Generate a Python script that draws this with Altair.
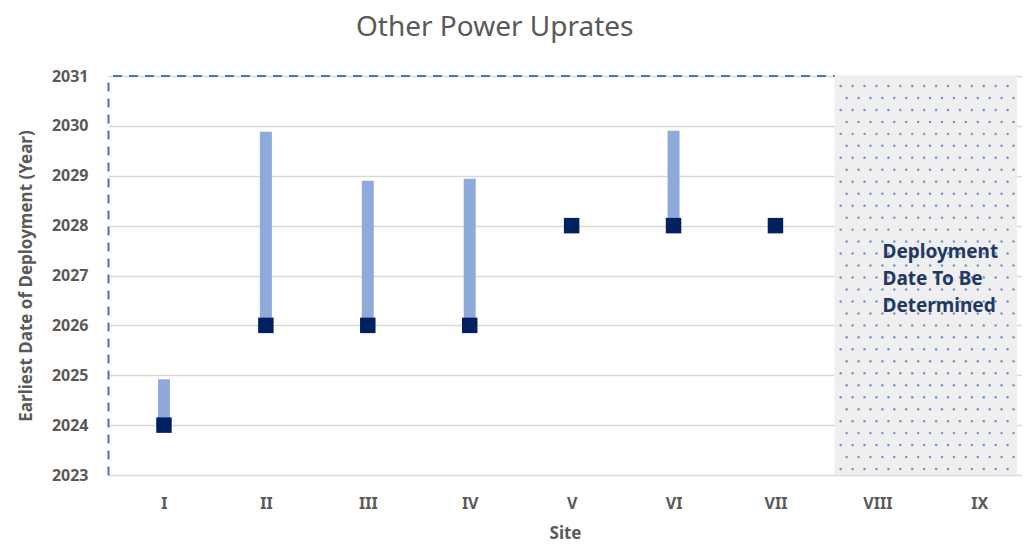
import altair as alt
import pandas as pd

sites = ["I", "II", "III", "IV", "V", "VI", "VII", "VIII", "IX"]
site_idx = [1, 2, 3, 4, 5, 6, 7, 8, 9]

point_sites = [1, 2, 3, 4, 5, 6, 7]
point_years = [2024, 2026, 2026, 2026, 2028, 2028, 2028]

bar_sites = [1, 2, 3, 4, 6]
bar_start = [2024, 2026, 2026, 2026, 2028]
bar_end = [2024.92, 2029.88, 2028.9, 2028.94, 2029.9]

tbd_from = 7.58
x_max = 9.37
y_min, y_max = 2023, 2031

FONT = "Noto Sans"
GREY = "#595959"
NAVY = "#002060"

points = pd.DataFrame({"site": point_sites, "year": point_years})
bars = pd.DataFrame({"site": bar_sites, "start": bar_start, "end": bar_end})
shade = pd.DataFrame({"x": [tbd_from], "x2": [x_max], "y": [y_min], "y2": [y_max]})
topline = pd.DataFrame({"x": [0.5], "x2": [tbd_from], "y": [y_max]})
note = pd.DataFrame({"x": [8.05], "y": [2027.48], "t": ["Deployment\nDate To Be\nDetermined"]})

label_expr = "[''," + ",".join(f"'{s}'" for s in sites) + "][datum.value]"

xscale = alt.Scale(domain=[0.5, x_max], nice=False, zero=False)
yscale = alt.Scale(domain=[y_min, y_max], nice=False, zero=False)

xaxis = alt.Axis(values=site_idx, labelExpr=label_expr, title="Site", grid=False,
                 ticks=False, domain=False, labelFont=FONT, labelFontSize=16,
                 labelFontWeight="bold", labelColor=GREY, labelPadding=20,
                 titleFont=FONT, titleFontSize=17, titleFontWeight="bold",
                 titleColor=GREY, titlePadding=14)
yaxis = alt.Axis(values=list(range(y_min, y_max + 1)), format="d",
                 title="Earliest Date of Deployment (Year)", grid=True,
                 gridColor="#d9d9d9", gridWidth=1.5, ticks=False,
                 domain=True, domainColor="#4472C4", domainWidth=2,
                 domainDash=[9, 7], labelFont=FONT, labelFontSize=16,
                 labelFontWeight="bold", labelColor=GREY, labelPadding=20,
                 titleFont=FONT, titleFontSize=17, titleFontWeight="bold",
                 titleColor=GREY, titlePadding=16)

base_grid = alt.Chart(points).mark_point(opacity=0).encode(
    x=alt.X("site:Q", scale=xscale, axis=xaxis),
    y=alt.Y("year:Q", scale=yscale, axis=yaxis),
)

shade_layer = alt.Chart(shade).mark_rect(color="#efefef").encode(
    x="x:Q", x2="x2:Q", y="y:Q", y2="y2:Q")

# decorative dot texture over the "to be determined" region
dots_layer = alt.Chart(alt.SequenceGenerator(sequence={"start": 0, "stop": 15 * 33, "as": "i"})).transform_calculate(
    col="datum.i % 15", row="floor(datum.i / 15)"
).transform_calculate(
    dx=f"{tbd_from} + 0.06 + datum.col * 0.117 + (datum.row % 2) * 0.058",
    dy=f"{y_min} + 0.12 + datum.row * 0.24",
).mark_circle(color="#4472C4", size=6, opacity=0.75).encode(x="dx:Q", y="dy:Q")

top_layer = alt.Chart(topline).mark_rule(color="#4472C4", strokeWidth=2, strokeDash=[9, 7]).encode(
    x="x:Q", x2="x2:Q", y="y:Q")

bar_layer = alt.Chart(bars).mark_bar(color="#8eaadb", size=12).encode(
    x="site:Q", y="start:Q", y2="end:Q")

pt_layer = alt.Chart(points).mark_square(color=NAVY, size=240, opacity=1).encode(
    x="site:Q", y="year:Q")

text_layer = alt.Chart(note).mark_text(
    align="left", baseline="middle", lineHeight=27, lineBreak="\n", font=FONT, fontSize=19,
    fontWeight="bold", color="#1f3864").encode(x="x:Q", y="y:Q", text="t:N")

chart = alt.layer(base_grid, shade_layer, dots_layer, top_layer, bar_layer, pt_layer, text_layer).properties(
    width=1014, height=538,
    autosize=alt.AutoSizeParams(type="fit", contains="padding"),
    padding={"left": 9, "top": 6, "right": 0, "bottom": 5},
    title=alt.TitleParams("Other Power Uprates", font=FONT, fontSize=28,
                          fontWeight="normal", color=GREY, offset=26, anchor="middle",
                          frame="bounds", dx=-25),
).configure_view(stroke=None)

chart.save("out.html", embed_options={"renderer": "svg", "actions": False})
